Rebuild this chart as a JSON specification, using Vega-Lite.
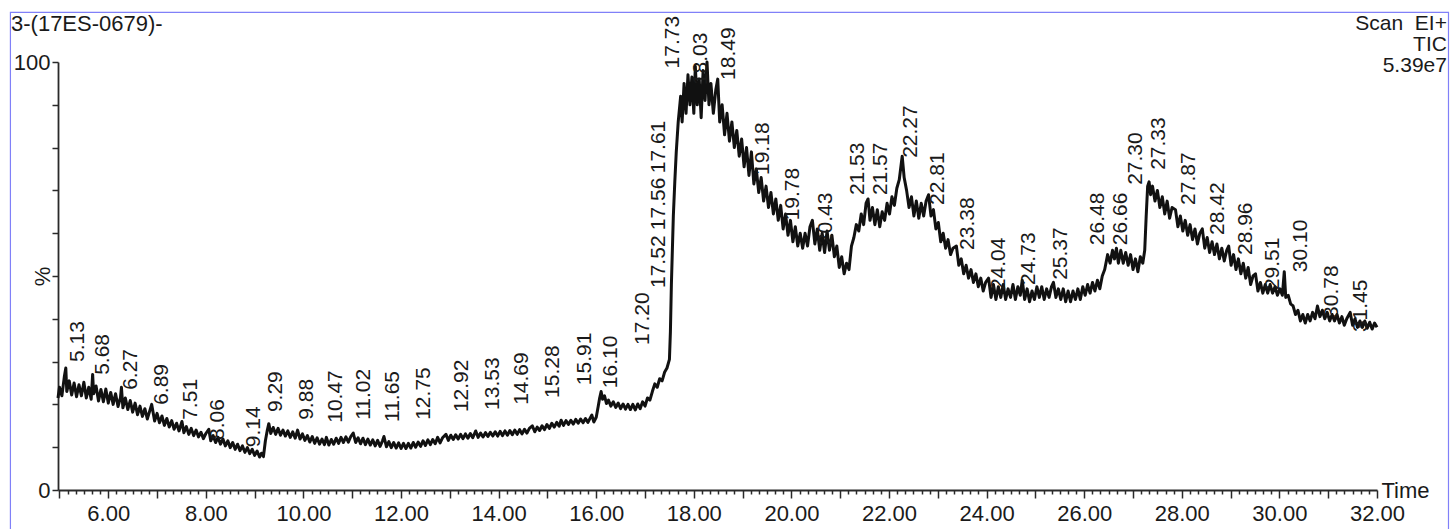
{
"$schema": "https://vega.github.io/schema/vega-lite/v6.json",
"width": 1319, "height": 428,
"autosize": {"type": "none"},
"padding": {"left": 58, "top": 62, "right": 77, "bottom": 39},
"background": "white",
"config": {"view": {"stroke": null}, "font": "Liberation Sans"},
"datasets": {
"tic": [
{"t":4.97,"v":21.5},{"t":5.00,"v":24.0},{"t":5.05,"v":22.0},{"t":5.10,"v":26.5},{"t":5.13,"v":28.5},{"t":5.15,"v":23.0},{"t":5.20,"v":25.5},{"t":5.25,"v":22.2},{"t":5.30,"v":25.0},{"t":5.35,"v":21.8},{"t":5.40,"v":24.6},{"t":5.45,"v":22.0},{"t":5.50,"v":25.2},{"t":5.55,"v":21.5},{"t":5.60,"v":24.0},{"t":5.65,"v":21.2},{"t":5.68,"v":27.0},{"t":5.70,"v":22.5},{"t":5.75,"v":24.3},{"t":5.80,"v":20.8},{"t":5.85,"v":23.5},{"t":5.90,"v":20.6},{"t":5.95,"v":23.6},
{"t":6.00,"v":20.3},{"t":6.05,"v":22.8},{"t":6.10,"v":20.0},{"t":6.15,"v":22.5},{"t":6.20,"v":19.5},{"t":6.25,"v":21.6},{"t":6.27,"v":24.0},{"t":6.30,"v":19.2},{"t":6.35,"v":21.5},{"t":6.40,"v":18.8},{"t":6.45,"v":20.9},{"t":6.50,"v":18.2},{"t":6.55,"v":20.3},{"t":6.60,"v":17.6},{"t":6.65,"v":19.6},{"t":6.70,"v":17.2},{"t":6.75,"v":19.0},{"t":6.80,"v":16.6},{"t":6.85,"v":18.5},{"t":6.89,"v":20.0},{"t":6.95,"v":16.1},
{"t":7.00,"v":17.9},{"t":7.05,"v":15.7},{"t":7.10,"v":17.3},{"t":7.15,"v":15.1},{"t":7.20,"v":16.7},{"t":7.25,"v":14.7},{"t":7.30,"v":16.2},{"t":7.35,"v":14.2},{"t":7.40,"v":15.6},{"t":7.45,"v":13.8},{"t":7.51,"v":16.0},{"t":7.55,"v":13.4},{"t":7.60,"v":14.8},{"t":7.65,"v":13.0},{"t":7.70,"v":14.4},{"t":7.75,"v":12.7},{"t":7.80,"v":14.0},{"t":7.85,"v":12.4},{"t":7.90,"v":13.5},{"t":7.95,"v":12.0},
{"t":8.00,"v":13.2},{"t":8.06,"v":14.2},{"t":8.10,"v":11.5},{"t":8.15,"v":12.7},{"t":8.20,"v":11.1},{"t":8.25,"v":12.3},{"t":8.30,"v":10.7},{"t":8.35,"v":11.9},{"t":8.40,"v":10.3},{"t":8.45,"v":11.5},{"t":8.50,"v":9.9},{"t":8.55,"v":11.1},{"t":8.60,"v":9.5},{"t":8.65,"v":10.7},{"t":8.70,"v":9.2},{"t":8.75,"v":10.3},{"t":8.80,"v":8.8},{"t":8.85,"v":9.9},{"t":8.90,"v":8.5},{"t":8.95,"v":9.5},
{"t":9.00,"v":8.1},{"t":9.05,"v":9.1},{"t":9.10,"v":7.7},{"t":9.14,"v":8.6},{"t":9.18,"v":7.8},{"t":9.22,"v":11.5},{"t":9.26,"v":14.0},{"t":9.29,"v":15.5},{"t":9.33,"v":13.2},{"t":9.38,"v":14.6},{"t":9.43,"v":13.0},{"t":9.48,"v":14.4},{"t":9.53,"v":12.8},{"t":9.58,"v":14.0},{"t":9.63,"v":12.6},{"t":9.68,"v":13.8},{"t":9.73,"v":12.3},{"t":9.78,"v":13.6},{"t":9.83,"v":12.1},{"t":9.88,"v":14.0},{"t":9.93,"v":11.9},{"t":9.98,"v":13.1},
{"t":10.03,"v":11.6},{"t":10.08,"v":12.7},{"t":10.13,"v":11.2},{"t":10.18,"v":12.5},{"t":10.23,"v":10.9},{"t":10.28,"v":12.2},{"t":10.33,"v":10.7},{"t":10.38,"v":11.9},{"t":10.43,"v":10.6},{"t":10.47,"v":12.3},{"t":10.52,"v":10.5},{"t":10.57,"v":11.8},{"t":10.62,"v":10.7},{"t":10.67,"v":12.1},{"t":10.72,"v":10.9},{"t":10.77,"v":12.3},{"t":10.82,"v":11.1},{"t":10.87,"v":12.4},{"t":10.92,"v":11.2},{"t":10.97,"v":12.5},
{"t":11.02,"v":13.3},{"t":11.07,"v":11.1},{"t":11.12,"v":12.2},{"t":11.17,"v":10.8},{"t":11.22,"v":12.1},{"t":11.27,"v":10.6},{"t":11.32,"v":11.9},{"t":11.37,"v":10.5},{"t":11.42,"v":11.7},{"t":11.47,"v":10.3},{"t":11.52,"v":11.6},{"t":11.57,"v":10.2},{"t":11.62,"v":11.5},{"t":11.65,"v":12.5},{"t":11.70,"v":10.1},{"t":11.75,"v":11.3},{"t":11.80,"v":9.9},{"t":11.85,"v":11.1},{"t":11.90,"v":9.8},{"t":11.95,"v":11.0},
{"t":12.00,"v":9.7},{"t":12.05,"v":10.9},{"t":12.10,"v":9.7},{"t":12.15,"v":10.9},{"t":12.20,"v":9.8},{"t":12.25,"v":11.1},{"t":12.30,"v":10.0},{"t":12.35,"v":11.2},{"t":12.40,"v":10.2},{"t":12.45,"v":11.5},{"t":12.50,"v":10.4},{"t":12.55,"v":11.7},{"t":12.60,"v":10.6},{"t":12.65,"v":11.8},{"t":12.70,"v":10.8},{"t":12.75,"v":12.3},{"t":12.80,"v":11.0},{"t":12.85,"v":12.2},{"t":12.92,"v":13.0},{"t":12.97,"v":11.6},
{"t":13.02,"v":12.8},{"t":13.07,"v":11.8},{"t":13.12,"v":12.9},{"t":13.17,"v":11.9},{"t":13.22,"v":13.0},{"t":13.27,"v":12.0},{"t":13.32,"v":13.1},{"t":13.37,"v":12.1},{"t":13.42,"v":13.2},{"t":13.47,"v":12.2},{"t":13.53,"v":13.8},{"t":13.58,"v":12.3},{"t":13.63,"v":13.3},{"t":13.68,"v":12.4},{"t":13.73,"v":13.4},{"t":13.78,"v":12.5},{"t":13.83,"v":13.5},{"t":13.88,"v":12.6},{"t":13.93,"v":13.6},{"t":13.98,"v":12.6},
{"t":14.03,"v":13.7},{"t":14.08,"v":12.7},{"t":14.13,"v":13.8},{"t":14.18,"v":12.8},{"t":14.23,"v":13.9},{"t":14.28,"v":12.9},{"t":14.33,"v":14.0},{"t":14.38,"v":13.0},{"t":14.43,"v":14.1},{"t":14.48,"v":13.1},{"t":14.53,"v":14.2},{"t":14.58,"v":13.3},{"t":14.63,"v":14.4},{"t":14.69,"v":15.0},{"t":14.74,"v":13.6},{"t":14.79,"v":14.7},{"t":14.84,"v":13.9},{"t":14.89,"v":15.0},{"t":14.94,"v":14.1},{"t":14.99,"v":15.3},
{"t":15.04,"v":14.4},{"t":15.09,"v":15.6},{"t":15.14,"v":14.7},{"t":15.19,"v":15.8},{"t":15.24,"v":14.9},{"t":15.28,"v":16.3},{"t":15.33,"v":15.1},{"t":15.38,"v":16.2},{"t":15.43,"v":15.3},{"t":15.48,"v":16.3},{"t":15.53,"v":15.4},{"t":15.58,"v":16.5},{"t":15.63,"v":15.6},{"t":15.68,"v":16.6},{"t":15.73,"v":15.7},{"t":15.78,"v":16.7},{"t":15.83,"v":15.8},{"t":15.88,"v":16.9},{"t":15.91,"v":17.5},{"t":15.95,"v":15.9},
{"t":16.00,"v":17.0},{"t":16.04,"v":19.5},{"t":16.07,"v":21.5},{"t":16.10,"v":23.0},{"t":16.13,"v":21.2},{"t":16.17,"v":22.0},{"t":16.21,"v":20.2},{"t":16.25,"v":21.0},{"t":16.30,"v":19.6},{"t":16.35,"v":20.6},{"t":16.40,"v":19.3},{"t":16.45,"v":20.3},{"t":16.50,"v":19.0},{"t":16.55,"v":20.1},{"t":16.60,"v":18.9},{"t":16.65,"v":20.0},{"t":16.70,"v":18.8},{"t":16.75,"v":20.0},{"t":16.80,"v":18.7},{"t":16.85,"v":20.1},{"t":16.90,"v":19.0},{"t":16.95,"v":20.6},
{"t":17.00,"v":19.6},{"t":17.05,"v":21.5},{"t":17.10,"v":21.0},{"t":17.15,"v":23.0},{"t":17.20,"v":24.8},{"t":17.25,"v":24.0},{"t":17.30,"v":26.0},{"t":17.35,"v":25.5},{"t":17.40,"v":27.5},{"t":17.45,"v":28.5},{"t":17.50,"v":30.5},{"t":17.52,"v":37.0},{"t":17.54,"v":48.0},{"t":17.56,"v":56.0},{"t":17.58,"v":64.0},{"t":17.61,"v":72.0},{"t":17.64,"v":79.0},{"t":17.68,"v":86.0},{"t":17.73,"v":92.0},{"t":17.76,"v":86.0},{"t":17.80,"v":95.0},{"t":17.84,"v":88.0},{"t":17.88,"v":97.0},{"t":17.92,"v":90.0},{"t":17.96,"v":96.5},
{"t":18.00,"v":88.0},{"t":18.03,"v":99.0},{"t":18.07,"v":90.0},{"t":18.11,"v":96.0},{"t":18.15,"v":87.0},{"t":18.19,"v":98.0},{"t":18.23,"v":91.0},{"t":18.27,"v":100.0},{"t":18.31,"v":90.0},{"t":18.35,"v":95.0},{"t":18.40,"v":88.0},{"t":18.45,"v":93.5},{"t":18.49,"v":96.0},{"t":18.53,"v":86.0},{"t":18.58,"v":90.0},{"t":18.63,"v":83.0},{"t":18.68,"v":88.0},{"t":18.73,"v":81.5},{"t":18.78,"v":86.0},{"t":18.83,"v":80.0},{"t":18.88,"v":84.0},{"t":18.93,"v":78.0},{"t":18.98,"v":82.0},
{"t":19.03,"v":75.5},{"t":19.08,"v":80.0},{"t":19.13,"v":73.5},{"t":19.18,"v":79.0},{"t":19.23,"v":71.5},{"t":19.28,"v":75.0},{"t":19.33,"v":69.5},{"t":19.38,"v":73.0},{"t":19.43,"v":67.5},{"t":19.48,"v":71.0},{"t":19.53,"v":66.0},{"t":19.58,"v":69.5},{"t":19.63,"v":64.5},{"t":19.68,"v":68.0},{"t":19.73,"v":63.0},{"t":19.78,"v":66.5},{"t":19.83,"v":61.0},{"t":19.88,"v":64.5},{"t":19.93,"v":59.5},{"t":19.98,"v":63.0},
{"t":20.03,"v":58.0},{"t":20.08,"v":61.5},{"t":20.13,"v":57.0},{"t":20.18,"v":60.0},{"t":20.23,"v":56.5},{"t":20.28,"v":60.0},{"t":20.33,"v":57.0},{"t":20.38,"v":61.5},{"t":20.43,"v":63.0},{"t":20.48,"v":57.5},{"t":20.53,"v":61.0},{"t":20.58,"v":56.0},{"t":20.63,"v":60.0},{"t":20.68,"v":55.5},{"t":20.73,"v":60.5},{"t":20.78,"v":56.0},{"t":20.83,"v":59.5},{"t":20.88,"v":54.5},{"t":20.93,"v":57.0},{"t":20.98,"v":52.0},
{"t":21.03,"v":54.5},{"t":21.08,"v":50.5},{"t":21.13,"v":53.0},{"t":21.18,"v":51.5},{"t":21.23,"v":57.0},{"t":21.28,"v":59.0},{"t":21.33,"v":62.0},{"t":21.38,"v":60.5},{"t":21.43,"v":64.5},{"t":21.48,"v":62.0},{"t":21.53,"v":67.0},{"t":21.57,"v":68.0},{"t":21.61,"v":63.0},{"t":21.66,"v":66.0},{"t":21.71,"v":62.0},{"t":21.76,"v":65.5},{"t":21.81,"v":61.5},{"t":21.86,"v":65.0},{"t":21.91,"v":63.0},{"t":21.96,"v":67.0},
{"t":22.01,"v":64.5},{"t":22.06,"v":68.5},{"t":22.11,"v":66.5},{"t":22.16,"v":70.5},{"t":22.21,"v":72.5},{"t":22.27,"v":78.0},{"t":22.31,"v":73.0},{"t":22.36,"v":70.0},{"t":22.41,"v":66.0},{"t":22.46,"v":68.5},{"t":22.51,"v":64.0},{"t":22.56,"v":67.5},{"t":22.61,"v":63.5},{"t":22.66,"v":67.0},{"t":22.71,"v":64.0},{"t":22.76,"v":67.5},{"t":22.81,"v":69.0},{"t":22.86,"v":64.0},{"t":22.91,"v":65.5},{"t":22.96,"v":61.0},
{"t":23.01,"v":62.5},{"t":23.06,"v":58.0},{"t":23.11,"v":60.0},{"t":23.16,"v":56.5},{"t":23.21,"v":58.5},{"t":23.26,"v":55.0},{"t":23.31,"v":56.5},{"t":23.38,"v":57.0},{"t":23.43,"v":52.5},{"t":23.48,"v":54.0},{"t":23.53,"v":50.5},{"t":23.58,"v":52.5},{"t":23.63,"v":49.5},{"t":23.68,"v":51.5},{"t":23.73,"v":48.5},{"t":23.78,"v":50.5},{"t":23.83,"v":47.5},{"t":23.88,"v":49.5},{"t":23.93,"v":46.5},{"t":23.98,"v":48.5},
{"t":24.04,"v":49.5},{"t":24.09,"v":45.0},{"t":24.14,"v":48.0},{"t":24.19,"v":44.5},{"t":24.24,"v":47.5},{"t":24.29,"v":45.0},{"t":24.34,"v":48.0},{"t":24.39,"v":44.5},{"t":24.44,"v":47.0},{"t":24.49,"v":45.0},{"t":24.54,"v":48.0},{"t":24.59,"v":44.5},{"t":24.64,"v":47.5},{"t":24.69,"v":45.5},{"t":24.73,"v":49.0},{"t":24.78,"v":44.5},{"t":24.83,"v":47.0},{"t":24.88,"v":44.0},{"t":24.93,"v":46.5},{"t":24.98,"v":44.5},
{"t":25.03,"v":47.5},{"t":25.08,"v":45.0},{"t":25.13,"v":47.5},{"t":25.18,"v":44.5},{"t":25.23,"v":47.0},{"t":25.28,"v":45.0},{"t":25.33,"v":47.5},{"t":25.37,"v":48.5},{"t":25.42,"v":45.0},{"t":25.47,"v":47.0},{"t":25.52,"v":44.5},{"t":25.57,"v":47.0},{"t":25.62,"v":44.0},{"t":25.67,"v":46.5},{"t":25.72,"v":44.0},{"t":25.77,"v":46.5},{"t":25.82,"v":44.5},{"t":25.87,"v":47.0},{"t":25.92,"v":44.5},{"t":25.97,"v":47.5},
{"t":26.02,"v":45.5},{"t":26.07,"v":48.0},{"t":26.12,"v":46.0},{"t":26.17,"v":48.5},{"t":26.22,"v":46.5},{"t":26.27,"v":49.0},{"t":26.32,"v":47.0},{"t":26.37,"v":50.0},{"t":26.42,"v":51.5},{"t":26.48,"v":55.0},{"t":26.53,"v":53.0},{"t":26.58,"v":56.0},{"t":26.62,"v":54.0},{"t":26.66,"v":56.5},{"t":26.70,"v":53.0},{"t":26.75,"v":56.0},{"t":26.80,"v":53.0},{"t":26.85,"v":55.5},{"t":26.90,"v":52.5},{"t":26.95,"v":55.0},
{"t":27.00,"v":51.5},{"t":27.05,"v":54.0},{"t":27.10,"v":51.0},{"t":27.15,"v":54.5},{"t":27.20,"v":53.0},{"t":27.24,"v":56.0},{"t":27.27,"v":64.0},{"t":27.30,"v":71.0},{"t":27.33,"v":72.0},{"t":27.36,"v":69.0},{"t":27.40,"v":71.0},{"t":27.45,"v":67.5},{"t":27.50,"v":70.0},{"t":27.55,"v":66.0},{"t":27.60,"v":68.5},{"t":27.65,"v":64.5},{"t":27.70,"v":67.5},{"t":27.75,"v":63.5},{"t":27.80,"v":66.0},{"t":27.87,"v":65.5},{"t":27.92,"v":61.5},{"t":27.97,"v":64.0},
{"t":28.02,"v":60.5},{"t":28.07,"v":63.0},{"t":28.12,"v":59.5},{"t":28.17,"v":62.0},{"t":28.22,"v":58.5},{"t":28.27,"v":61.0},{"t":28.32,"v":57.5},{"t":28.37,"v":60.0},{"t":28.42,"v":61.0},{"t":28.47,"v":56.5},{"t":28.52,"v":59.0},{"t":28.57,"v":55.5},{"t":28.62,"v":58.0},{"t":28.67,"v":55.0},{"t":28.72,"v":57.5},{"t":28.77,"v":54.0},{"t":28.82,"v":56.5},{"t":28.87,"v":53.5},{"t":28.92,"v":56.0},{"t":28.96,"v":57.0},
{"t":29.01,"v":52.5},{"t":29.06,"v":55.0},{"t":29.11,"v":51.5},{"t":29.16,"v":54.0},{"t":29.21,"v":50.5},{"t":29.26,"v":53.0},{"t":29.31,"v":49.5},{"t":29.36,"v":52.0},{"t":29.41,"v":48.0},{"t":29.46,"v":50.0},{"t":29.51,"v":50.5},{"t":29.56,"v":46.5},{"t":29.61,"v":48.5},{"t":29.66,"v":46.0},{"t":29.71,"v":48.0},{"t":29.76,"v":46.0},{"t":29.81,"v":48.0},{"t":29.86,"v":46.0},{"t":29.91,"v":47.5},{"t":29.96,"v":45.5},
{"t":30.01,"v":47.0},{"t":30.06,"v":45.5},{"t":30.10,"v":51.0},{"t":30.13,"v":45.0},{"t":30.18,"v":45.5},{"t":30.23,"v":43.5},{"t":30.28,"v":43.0},{"t":30.33,"v":41.0},{"t":30.38,"v":42.0},{"t":30.43,"v":39.5},{"t":30.48,"v":41.0},{"t":30.53,"v":39.0},{"t":30.58,"v":41.0},{"t":30.63,"v":39.5},{"t":30.68,"v":41.5},{"t":30.73,"v":40.0},{"t":30.78,"v":43.0},{"t":30.83,"v":40.5},{"t":30.88,"v":42.0},{"t":30.93,"v":40.0},{"t":30.98,"v":41.5},
{"t":31.03,"v":39.5},{"t":31.08,"v":41.0},{"t":31.13,"v":39.5},{"t":31.18,"v":41.0},{"t":31.23,"v":39.0},{"t":31.28,"v":40.5},{"t":31.33,"v":38.5},{"t":31.38,"v":40.0},{"t":31.45,"v":41.5},{"t":31.50,"v":38.5},{"t":31.55,"v":40.0},{"t":31.60,"v":38.0},{"t":31.65,"v":39.5},{"t":31.70,"v":38.0},{"t":31.75,"v":39.5},{"t":31.80,"v":37.8},{"t":31.85,"v":39.2},{"t":31.90,"v":37.6},{"t":31.95,"v":39.0},{"t":32.00,"v":38.0}
],
"peaks": [
{"t":5.13,"x":5.15,"y":29.9},{"t":5.68,"x":5.67,"y":26.9},{"t":6.27,"x":6.24,"y":23.4},{"t":6.89,"x":6.88,"y":19.9},{"t":7.51,"x":7.47,"y":16.4},{"t":8.06,"x":8.02,"y":11.7},{"t":9.14,"x":8.76,"y":10.0},{"t":9.29,"x":9.21,"y":18.2},{"t":9.88,"x":9.85,"y":16.4},{"t":10.47,"x":10.44,"y":15.7},{"t":11.02,"x":11.02,"y":16.4},{"t":11.65,"x":11.61,"y":15.9},{"t":12.75,"x":12.24,"y":16.4},{"t":12.92,"x":13.02,"y":18.2},{"t":13.53,"x":13.66,"y":18.7},{"t":14.69,"x":14.25,"y":19.9},{"t":15.28,"x":14.89,"y":21.5},{"t":15.91,"x":15.54,"y":24.5},{"t":16.10,"x":16.08,"y":23.8},{"t":17.20,"x":16.73,"y":33.9},{"t":17.52,"x":17.06,"y":47.2},{"t":17.56,"x":17.06,"y":60.7},{"t":17.61,"x":17.06,"y":74.0},{"t":17.73,"x":17.35,"y":98.5},{"t":18.03,"x":17.92,"y":94.6},{"t":18.49,"x":18.49,"y":95.8},{"t":19.18,"x":19.19,"y":73.6},{"t":19.78,"x":19.81,"y":63.0},{"t":20.43,"x":20.48,"y":57.2},{"t":21.53,"x":21.14,"y":68.9},{"t":21.57,"x":21.61,"y":68.9},{"t":22.27,"x":22.22,"y":77.6},{"t":22.81,"x":22.78,"y":66.6},{"t":23.38,"x":23.39,"y":56.1},{"t":24.04,"x":24.03,"y":46.7},{"t":24.73,"x":24.64,"y":47.9},{"t":25.37,"x":25.30,"y":49.1},{"t":26.48,"x":26.06,"y":57.2},{"t":26.66,"x":26.53,"y":57.2},{"t":27.30,"x":26.83,"y":71.3},{"t":27.33,"x":27.31,"y":74.8},{"t":27.87,"x":27.92,"y":66.6},{"t":28.42,"x":28.52,"y":59.6},{"t":28.96,"x":29.09,"y":54.9},{"t":29.51,"x":29.64,"y":46.7},{"t":30.10,"x":30.22,"y":50.9},{"t":30.78,"x":30.85,"y":40.2},{"t":31.45,"x":31.45,"y":36.9}
]
},
"layer": [
{
"data": {"name": "tic"},
"mark": {"type": "line", "color": "#111111", "strokeWidth": 3, "interpolate": "linear", "strokeJoin": "round"},
"encoding": {
"x": {"field": "t", "type": "quantitative",
"scale": {"domain": [4.97, 32.0], "nice": false, "zero": false},
"axis": {"orient": "bottom", "grid": false,
"values": [6,8,10,12,14,16,18,20,22,24,26,28,30,32],
"format": ".2f",
"tickSize": 8, "tickWidth": 1.5, "tickColor": "#2a2a2a", "domainColor": "#2a2a2a", "domainWidth": 1.8,
"labelFont": "Liberation Sans", "labelFontSize": 22, "labelColor": "#1a1a1a", "labelPadding": 5,
"labelOverlap": false, "labelFlush": false, "labelBound": false,
"title": "Time", "titleX": 1323, "titleY": 0, "titleAlign": "left", "titleBaseline": "middle", "titleAngle": 0,
"titleFont": "Liberation Sans", "titleFontSize": 22, "titleFontWeight": "normal", "titleColor": "#1a1a1a"}},
"y": {"field": "v", "type": "quantitative",
"scale": {"domain": [0, 100], "nice": false},
"axis": {"orient": "left", "grid": false,
"values": [0,10,20,30,40,50,60,70,80,90,100],
"labelExpr": "datum.value==0||datum.value==100 ? datum.label : ''",
"tickSize": 6, "tickWidth": 1.5, "tickColor": "#2a2a2a", "domainColor": "#2a2a2a", "domainWidth": 1.8,
"labelFont": "Liberation Sans", "labelFontSize": 22, "labelColor": "#1a1a1a", "labelPadding": 2,
"labelOverlap": false, "labelBound": false,
"title": "%", "titleX": -9, "titleY": 214, "titleAngle": 270, "titleAlign": "center", "titleBaseline": "alphabetic",
"titleFont": "Liberation Sans", "titleFontSize": 22, "titleFontWeight": "normal", "titleColor": "#1a1a1a"}}
}
},
{
"data": {"name": "peaks"},
"mark": {"type": "text", "angle": 270, "align": "left", "baseline": "top", "fontSize": 21, "font": "Liberation Sans", "color": "#1a1a1a"},
"encoding": {
"x": {"field": "x", "type": "quantitative",
"axis": {"orient": "bottom", "values": [5,7,9,11,13,15,17,19,21,23,25,27,29,31], "tickSize": 8, "tickWidth": 1.5, "tickColor": "#2a2a2a", "labels": false, "domain": false, "grid": false, "title": null}},
"y": {"field": "y", "type": "quantitative", "axis": null},
"text": {"field": "t", "type": "quantitative", "format": ".2f"}
}
},
{
"data": {"values": [{}]},
"mark": {"type": "rect", "fillOpacity": 0, "stroke": "#8080f8", "strokeWidth": 1.2},
"encoding": {
"x": {"datum": 3.995, "type": "quantitative",
"axis": {"orient": "bottom", "values": [5.1667,5.3333,5.5,5.6667,5.8333,6.1667,6.3333,6.5,6.6667,6.8333,7.1667,7.3333,7.5,7.6667,7.8333,8.1667,8.3333,8.5,8.6667,8.8333,9.1667,9.3333,9.5,9.6667,9.8333,10.1667,10.3333,10.5,10.6667,10.8333,11.1667,11.3333,11.5,11.6667,11.8333,12.1667,12.3333,12.5,12.6667,12.8333,13.1667,13.3333,13.5,13.6667,13.8333,14.1667,14.3333,14.5,14.6667,14.8333,15.1667,15.3333,15.5,15.6667,15.8333,16.1667,16.3333,16.5,16.6667,16.8333,17.1667,17.3333,17.5,17.6667,17.8333,18.1667,18.3333,18.5,18.6667,18.8333,19.1667,19.3333,19.5,19.6667,19.8333,20.1667,20.3333,20.5,20.6667,20.8333,21.1667,21.3333,21.5,21.6667,21.8333,22.1667,22.3333,22.5,22.6667,22.8333,23.1667,23.3333,23.5,23.6667,23.8333,24.1667,24.3333,24.5,24.6667,24.8333,25.1667,25.3333,25.5,25.6667,25.8333,26.1667,26.3333,26.5,26.6667,26.8333,27.1667,27.3333,27.5,27.6667,27.8333,28.1667,28.3333,28.5,28.6667,28.8333,29.1667,29.3333,29.5,29.6667,29.8333,30.1667,30.3333,30.5,30.6667,30.8333,31.1667,31.3333,31.5,31.6667,31.8333], "tickSize": 4, "tickWidth": 1.5, "tickColor": "#2a2a2a", "labels": false, "domain": false, "grid": false, "title": null}},
"x2": {"datum": 33.465},
"y": {"datum": 111.6, "type": "quantitative", "axis": null},
"y2": {"datum": -15}
}
},
{
"data": {"values": [{}]},
"mark": {"type": "text", "align": "left", "baseline": "alphabetic", "fontSize": 22, "font": "Liberation Sans", "color": "#1a1a1a"},
"encoding": {
"x": {"datum": 4.007, "type": "quantitative", "axis": null},
"y": {"datum": 107.2, "type": "quantitative", "axis": null},
"text": {"value": "3-(17ES-0679)-"}
}
},
{
"data": {"values": [{}]},
"mark": {"type": "text", "align": "right", "baseline": "alphabetic", "fontSize": 21, "lineHeight": 21, "font": "Liberation Sans", "color": "#1a1a1a"},
"encoding": {
"x": {"datum": 33.433, "type": "quantitative", "axis": null},
"y": {"datum": 107.5, "type": "quantitative", "axis": null},
"text": {"value": ["Scan\u00a0 EI+", "TIC", "5.39e7"]}
}
}
],
"resolve": {"axis": {"x": "independent", "y": "independent"}}
}
